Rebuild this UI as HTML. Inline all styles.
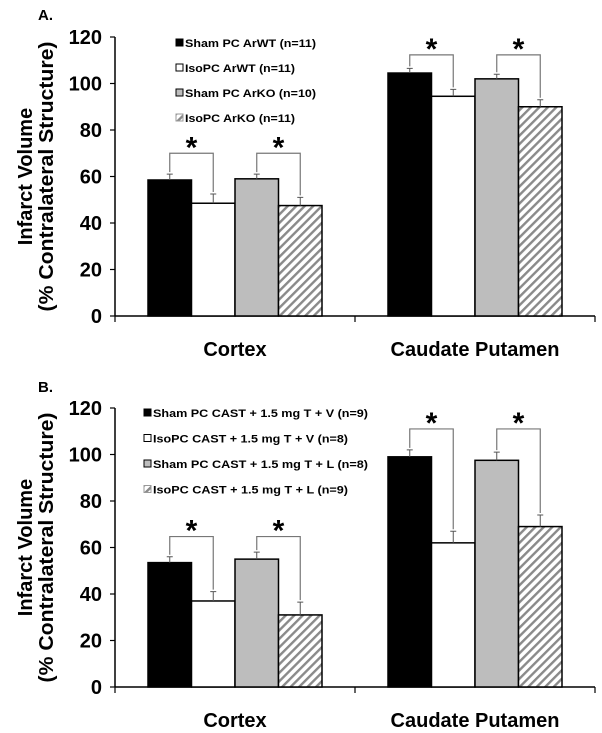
<!DOCTYPE html>
<html><head><meta charset="utf-8"><style>
body{margin:0;background:#fff;}
svg{display:block;font-family:"Liberation Sans",Arial,sans-serif;font-weight:bold;}
</style></head><body>
<svg id="c" width="602" height="733" viewBox="0 0 602 733" xmlns="http://www.w3.org/2000/svg">
<defs>
<pattern id="hatch" patternUnits="userSpaceOnUse" width="6" height="6" patternTransform="rotate(45)">
<rect width="6" height="6" fill="#fff"/><rect width="2.4" height="6" fill="#8a8a8a"/>
</pattern>
</defs>
</svg>
<script>
const categories = ["Cortex", "Caudate Putamen"];
const ticks = [0, 20, 40, 60, 80, 100, 120];
const seriesA = [[58.5, 48.5, 59, 47.5], [104.5, 94.5, 102, 90]];
const errA = [[2.5, 4, 2, 3.5], [2, 3, 2, 3]];
const bracketA = [70, 112.3];
const legendA = ["Sham PC ArWT (n=11)", "IsoPC ArWT (n=11)", "Sham PC ArKO (n=10)", "IsoPC ArKO (n=11)"];
const seriesB = [[53.5, 37, 55, 31], [99, 62, 97.5, 69]];
const errB = [[2.5, 4, 3, 5.5], [3, 5, 3.5, 5]];
const bracketB = [64.7, 111];
const legendB = ["Sham PC CAST + 1.5 mg T + V (n=9)", "IsoPC CAST + 1.5 mg T + V (n=8)", "Sham PC CAST + 1.5 mg T + L (n=8)", "IsoPC CAST + 1.5 mg T + L (n=9)"];

const svg = document.getElementById('c');
const NS = "http://www.w3.org/2000/svg";
function mk(tag, attrs, parent, text) {
  const e = document.createElementNS(NS, tag);
  for (const k in attrs) e.setAttribute(k, attrs[k]);
  if (text !== undefined) e.textContent = text;
  (parent || svg).appendChild(e);
  return e;
}
const fills = ["#000", "#fff", "#bdbdbd", "url(#hatch)"];

function panel(cfg) {
  const g = mk('g', {});
  
  
  const x0 = 115, x1 = 595, y0 = cfg.y0, y120 = cfg.y120;
  const yScale = v => y0 - (y0 - y120) * v / 120;
  const catW = (x1 - x0) / categories.length;
  const barW = 43.5;
  const barX = (ci, si) => x0 + ci * catW + catW / 2 - 2 * barW + si * barW;

  const lab = mk('text', {x: 38, y: cfg.labelY, 'font-size': 15}, g, cfg.label);
  
  

  const ya = mk('line', {x1: x0, y1: y120, x2: x0, y2: y0, stroke: '#000', 'stroke-width': 1.5}, g);
  
  
  const xa = mk('line', {x1: x0, y1: y0, x2: x1, y2: y0, stroke: '#000', 'stroke-width': 1.5}, g);
  
  
  for (let i = 0; i <= categories.length; i++) {
    const tx = x0 + i * catW;
    const t = mk('line', {x1: tx, y1: y0, x2: tx, y2: y0 + 6, stroke: '#000', 'stroke-width': 1.2}, g);
    
    
  }
  ticks.forEach(v => {
    const y = yScale(v);
    const t = mk('line', {x1: x0 - 5, y1: y, x2: x0, y2: y, stroke: '#000', 'stroke-width': 1.2}, g);
    
    
    const tl = mk('text', {x: 102, y: y + 7, 'font-size': 20, 'text-anchor': 'end'}, g, String(v));
    
    
  });
  const cy = (y0 + y120) / 2;
  const yt = mk('text', {transform: `translate(32,${cy}) rotate(-90)`, 'font-size': 20, 'text-anchor': 'middle'}, g, 'Infarct Volume');
  
  
  const yt2 = mk('text', {transform: `translate(53,${cy}) rotate(-90)`, 'font-size': 20, 'text-anchor': 'middle', textLength: 270, lengthAdjust: 'spacingAndGlyphs'}, g, '(% Contralateral Structure)');
  
  

  categories.forEach((c, ci) => {
    const cl = mk('text', {x: x0 + ci * catW + catW / 2, y: y0 + 40, 'font-size': 20, 'text-anchor': 'middle'}, g, c);
    
    
    cfg.series[ci].forEach((v, si) => {
      const x = barX(ci, si), y = yScale(v);
      const b = mk('rect', {x: x, y: y, width: barW, height: y0 - y, fill: fills[si], stroke: '#000', 'stroke-width': 1.5}, g);
      
      
      const ey = yScale(v + cfg.err[ci][si]);
      const cxm = x + barW / 2;
      const e = mk('path', {d: `M${cxm},${y}V${ey}M${cxm - 3},${ey}H${cxm + 3}`, stroke: '#555', 'stroke-width': 1, fill: 'none'}, g);
      
      
    });
    [[0, 1], [2, 3]].forEach(p => {
      const by = yScale(cfg.bracket[ci]);
      const xa1 = barX(ci, p[0]) + barW / 2, xa2 = barX(ci, p[1]) + barW / 2;
      const ya1 = yScale(cfg.series[ci][p[0]] + cfg.err[ci][p[0]]) - 2;
      const ya2 = yScale(cfg.series[ci][p[1]] + cfg.err[ci][p[1]]) - 2;
      const br = mk('path', {d: `M${xa1},${ya1}V${by}H${xa2}V${ya2}`, stroke: '#777', 'stroke-width': 1.2, fill: 'none'}, g);
      
      
      const s = mk('text', {x: (xa1 + xa2) / 2, y: by + 4, 'font-size': 30, 'text-anchor': 'middle'}, g, '*');
      
      
    });
  });

  cfg.legend.forEach((t, i) => {
    const ly = cfg.legY + i * cfg.legStep;
    const sq = mk('rect', {x: cfg.legX, y: ly - 4, width: 7, height: 7, fill: fills[i], stroke: i === 3 ? '#999' : '#000', 'stroke-width': 1}, g);
    
    
    const lt = mk('text', {x: cfg.legX + 9, y: ly + 4, 'font-size': 11, textLength: cfg.legLen[i], lengthAdjust: 'spacingAndGlyphs'}, g, t);
    
    
  });
}

panel({name: 'panel-a', label: 'A.', labelY: 20, y0: 316, y120: 37, series: seriesA, err: errA, bracket: bracketA,
  legend: legendA, legX: 176, legY: 43, legStep: 25, legLen: [131, 110, 131, 110]});
panel({name: 'panel-b', label: 'B.', labelY: 392, y0: 687, y120: 408, series: seriesB, err: errB, bracket: bracketB,
  legend: legendB, legX: 144, legY: 413, legStep: 25.5, legLen: [215, 195, 215, 195]});
</script>
</body></html>
